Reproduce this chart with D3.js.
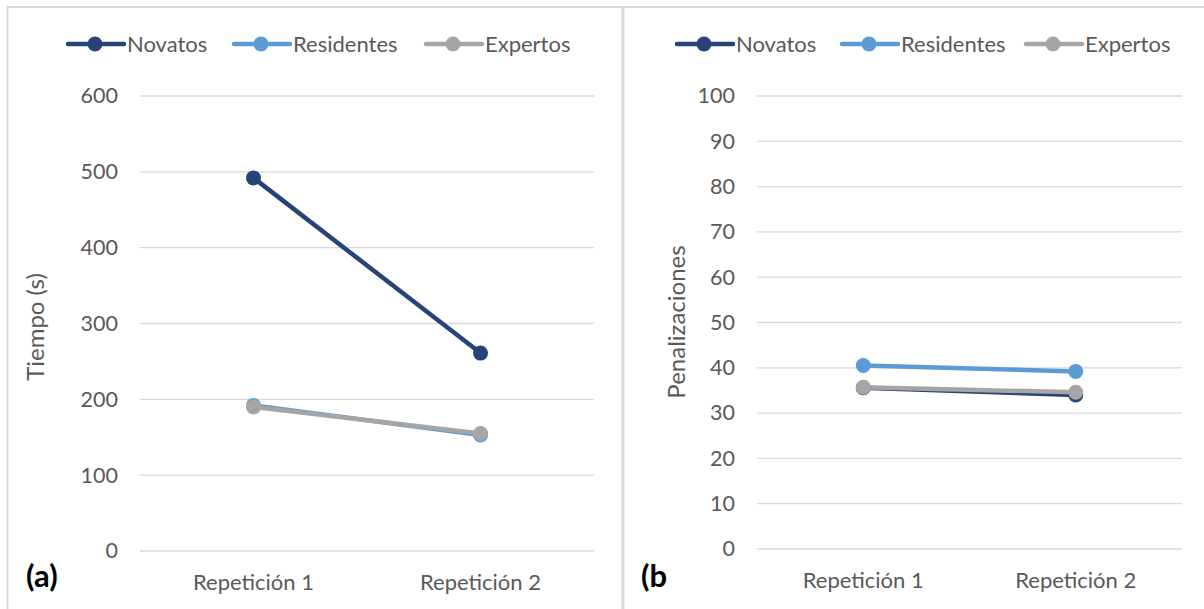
<!DOCTYPE html>
<html>
<head>
    <title></title>
    <meta charset="utf-8">
    <style>
        body { margin: 0; background: #fff; }
        text { font-family: Lato, 'Open Sans', sans-serif; }
    </style>
</head>
<body>
<script src="https://d3js.org/d3.v7.min.js"></script>
<script>
    // data
    var categories = ['Repetición 1', 'Repetición 2'];
    var seriesNames = ['Novatos', 'Residentes', 'Expertos'];
    var colors = ['#264478', '#5B9BD5', '#A5A5A5'];

    var tiempoNovatos = [492, 261];
    var tiempoResidentes = [192, 153];
    var tiempoExpertos = [190, 155];
    var tiempoTicks = [0, 100, 200, 300, 400, 500, 600];

    var penalNovatos = [35.6, 34.0];
    var penalResidentes = [40.5, 39.2];
    var penalExpertos = [35.7, 34.6];
    var penalTicks = [0, 10, 20, 30, 40, 50, 60, 70, 80, 90, 100];

    var svg = d3.select('body').append('svg')
        .attr('width', 1204)
        .attr('height', 609);

    // panel frames
    svg.append('line').attr('x1', 7).attr('x2', 1204).attr('y1', 7).attr('y2', 7)
        .style('stroke', '#d9d9d9').style('stroke-width', 2);
    svg.append('line').attr('x1', 7.5).attr('x2', 7.5).attr('y1', 6).attr('y2', 609)
        .style('stroke', '#d9d9d9').style('stroke-width', 2);
    svg.append('line').attr('x1', 623).attr('x2', 623).attr('y1', 6).attr('y2', 609)
        .style('stroke', '#d9d9d9').style('stroke-width', 3);

    function drawPanel(p) {
        var g = svg.append('g');
        var x = d3.scaleBand().domain(categories).range([p.x0, p.x1]);
        var y = d3.scaleLinear().domain([0, d3.max(p.ticks)]).range([p.y0, p.y1]);

        // gridlines
        g.selectAll('.grid').data(p.ticks).enter().append('line')
            .attr('x1', p.x0).attr('x2', p.x1)
            .attr('y1', function (d) { return y(d); })
            .attr('y2', function (d) { return y(d); })
            .style('stroke', '#d9d9d9')
            .style('stroke-width', 1.3);

        var yAxis = g.append('g')
            .attr('transform', 'translate(' + (p.x0 - 22) + ',0)')
            .call(d3.axisLeft(y).tickValues(p.ticks).tickSize(0).tickPadding(0));
        yAxis.select('.domain').remove();
        yAxis.selectAll('text').attr('fill', '#595959').attr('font-size', 21.5)
            .style('font-family', 'Lato, sans-serif');

        var xAxis = g.append('g')
            .attr('transform', 'translate(0,' + p.y0 + ')')
            .call(d3.axisBottom(x).tickSize(0).tickPadding(23));
        xAxis.select('.domain').remove();
        xAxis.selectAll('text').attr('fill', '#595959').attr('font-size', 22)
            .style('font-family', 'Lato, sans-serif');

        // axis title
        g.append('text')
            .attr('transform', 'translate(' + p.titleX + ',' + p.titleY + ') rotate(-90)')
            .attr('text-anchor', 'middle')
            .attr('fill', '#595959')
            .attr('font-size', 24)
            .text(p.title);

        var line = d3.line()
            .x(function (d, i) { return x(categories[i]) + x.bandwidth() / 2; })
            .y(function (d) { return y(d); });

        p.series.forEach(function (s, k) {
            g.append('path')
                .datum(s)
                .attr('d', line)
                .style('fill', 'none')
                .style('stroke', colors[k])
                .style('stroke-width', 4.5)
                .style('stroke-linecap', 'round');
            g.selectAll('.m' + k).data(s).enter().append('circle')
                .attr('cx', function (d, i) { return x(categories[i]) + x.bandwidth() / 2; })
                .attr('cy', function (d) { return y(d); })
                .attr('r', 7.5)
                .style('fill', colors[k]);
        });

        // legend
        var lg = g.selectAll('.lg').data(seriesNames).enter().append('g')
            .attr('transform', function (d, i) { return 'translate(' + p.legendX[i] + ',44)'; });
        lg.append('line')
            .attr('x1', 0).attr('x2', 56)
            .style('stroke', function (d, i) { return colors[i]; })
            .style('stroke-width', 4.5)
            .style('stroke-linecap', 'round');
        lg.append('circle')
            .attr('cx', 27).attr('r', 7.5)
            .style('fill', function (d, i) { return colors[i]; });
        lg.append('text')
            .attr('x', 59).attr('dy', '0.35em')
            .attr('fill', '#595959')
            .attr('font-size', 22)
            .text(function (d) { return d; });

        // panel label
        g.append('text')
            .attr('x', p.labelX).attr('y', 587)
            .attr('font-size', 31)
            .attr('font-weight', 700)
            .attr('fill', '#000')
            .text(p.label);
    }

    drawPanel({
        x0: 140, x1: 594, y0: 551, y1: 96,
        ticks: tiempoTicks,
        series: [tiempoNovatos, tiempoResidentes, tiempoExpertos],
        title: 'Tiempo (s)', titleX: 44, titleY: 327,
        legendX: [68, 234, 426],
        label: '(a)', labelX: 26
    });

    drawPanel({
        x0: 757, x1: 1182, y0: 549, y1: 96,
        ticks: penalTicks,
        series: [penalNovatos, penalResidentes, penalExpertos],
        title: 'Penalizaciones', titleX: 685, titleY: 322,
        legendX: [677, 842, 1026],
        label: '(b', labelX: 641
    });
</script>
</body>
</html>
